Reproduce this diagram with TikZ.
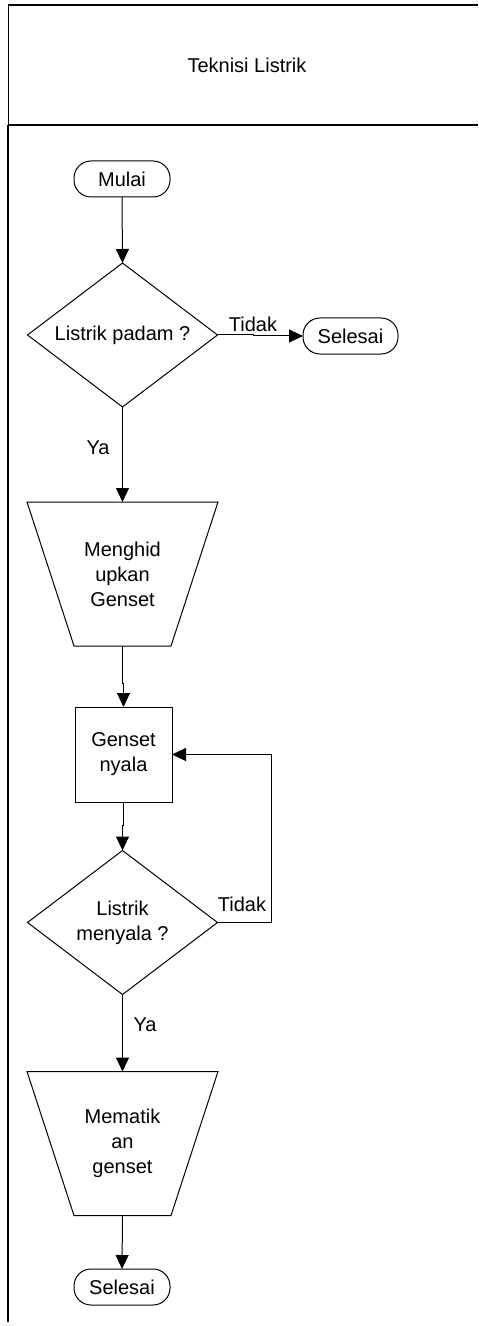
\documentclass[tikz,border=0pt]{standalone}
\usepackage{fontspec}
\setmainfont{Liberation Sans}
\usetikzlibrary{arrows.meta,shapes.geometric}
\begin{document}
\begin{tikzpicture}[x=0.5pt,y=-0.5pt,
  every node/.style={font=\fontsize{10}{12.5}\selectfont, inner sep=0pt, outer sep=0pt},
  term/.style={draw, rectangle, rounded corners=8.5pt, minimum width=48pt, minimum height=18pt, line width=0.5pt},
  decision/.style={draw, diamond, minimum width=95pt, minimum height=72pt, aspect=1.32, align=center, line width=0.5pt},
  procbox/.style={draw, rectangle, minimum width=48.5pt, minimum height=47.5pt, align=center, line width=0.5pt},
  manual/.style={rectangle, minimum width=95.5pt, minimum height=72pt, align=center},
  flow/.style={line width=0.5pt, -{Triangle[length=7pt,width=6.5pt]}}
]
\useasboundingbox (0,0) rectangle (478,1326);

% swimlane frame
\draw[line width=0.8pt] (8,5) -- (478,5);
\draw[line width=0.8pt] (8,125) -- (478,125);
\draw[line width=0.5pt] (8,5) -- (8,125);
\draw[line width=1.2pt] (8,125) -- (8,1322);
\node (lane) at (247,65) {Teknisi Listrik};

% flow steps
\node[term] (mulai) at (122,179) {Mulai};
\node[decision] (d1) at (122.5,335) {Listrik padam ?};
\node[term, minimum width=47.5pt] (sel1) at (350.5,336) {Selesai};
\node[manual] (t1) at (122.5,574) {Menghid\\upkan\\Genset};
\draw[line width=0.5pt] (t1.north west) -- (t1.north east)
  -- ([xshift=-23.5pt]t1.south east) -- ([xshift=23.5pt]t1.south west) -- cycle;
\node[procbox] (r1) at (123.5,754.5) {Genset\\nyala};
\node[decision] (d2) at (122.5,922.5) {Listrik\\menyala ?};
\node[manual] (t2) at (122.5,1143.5) {Mematik\\an\\genset};
\draw[line width=0.5pt] (t2.north west) -- (t2.north east)
  -- ([xshift=-23.5pt]t2.south east) -- ([xshift=23.5pt]t2.south west) -- cycle;
\node[term] (sel2) at (122,1287) {Selesai};

% branch labels
\node (tidak1) at (253,324) {Tidak};
\node (ya1) at (98,448) {Ya};
\node (tidak2) at (242,904) {Tidak};
\node (ya2) at (145,1025) {Ya};

% connectors
\draw[flow] (mulai.south) -- (d1.north);
\draw[flow] (d1.east) -- ++(36,0) |- (sel1.west);
\draw[flow] (d1.south) -- (t1.north);
\draw[flow] (t1.south) -- ++(0,37) -| (r1.north);
\draw[flow] (r1.south) -- ++(0,23) -| (d2.north);
\draw[flow] (d2.east) -- ++(54,0) |- (r1.east);
\draw[flow] (d2.south) -- (t2.north);
\draw[flow] (t2.south) -- (sel2.north);
\end{tikzpicture}
\end{document}
